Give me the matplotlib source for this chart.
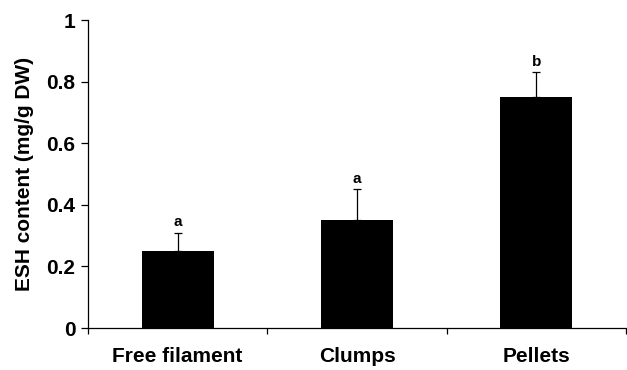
import matplotlib
matplotlib.use("Agg")
import matplotlib.pyplot as plt
import numpy as np

categories = ["Free filament", "Clumps", "Pellets"]
values = [0.25, 0.35, 0.75]
errors = [0.06, 0.10, 0.08]
letters = ["a", "a", "b"]
yticks = [0, 0.2, 0.4, 0.6, 0.8, 1]
ytick_labels = ["0", "0.2", "0.4", "0.6", "0.8", "1"]

plt.rcParams['font.family'] = ['Liberation Sans', 'DejaVu Sans']
plt.rcParams['font.weight'] = 'bold'

fig = plt.figure(figsize=(6.27, 3.70), dpi=100)
ax = fig.add_axes([88/627, 1-328/370, 538/627, 308/370])

x = np.arange(len(categories))
ax.bar(x, values, width=0.4, color='black', zorder=2)
ax.errorbar(x, values, yerr=[np.zeros(len(errors)), errors], fmt='none',
            ecolor='black', elinewidth=0.9, capsize=3.2, capthick=0.9, zorder=3)
for xi, v, e, l in zip(x, values, errors, letters):
    ax.text(xi, v + e + 0.01, l, ha='center', va='bottom', fontsize=11, fontweight='bold')

ax.set_xlim(-0.5, 2.5)
ax.set_ylim(0, 1)
ax.set_yticks(yticks)
ax.set_yticklabels(ytick_labels, fontsize=15, fontweight='bold')
ax.set_xticks(x)
ax.set_xticklabels(categories, fontsize=15, fontweight='bold')
ax.tick_params(axis='x', which='major', length=0, pad=14)
ax.set_xticks([-0.5, 0.5, 1.5, 2.5], minor=True)
ax.tick_params(axis='x', which='minor', length=4, width=0.9, direction='out')
ax.tick_params(axis='y', length=5, width=0.9, direction='out', pad=4)
ax.set_ylabel("ESH content (mg/g DW)", fontsize=15, fontweight='bold', labelpad=9)

for s in ['top', 'right']:
    ax.spines[s].set_visible(False)
for s in ['left', 'bottom']:
    ax.spines[s].set_linewidth(0.9)

fig.savefig("out.png", dpi=100)
